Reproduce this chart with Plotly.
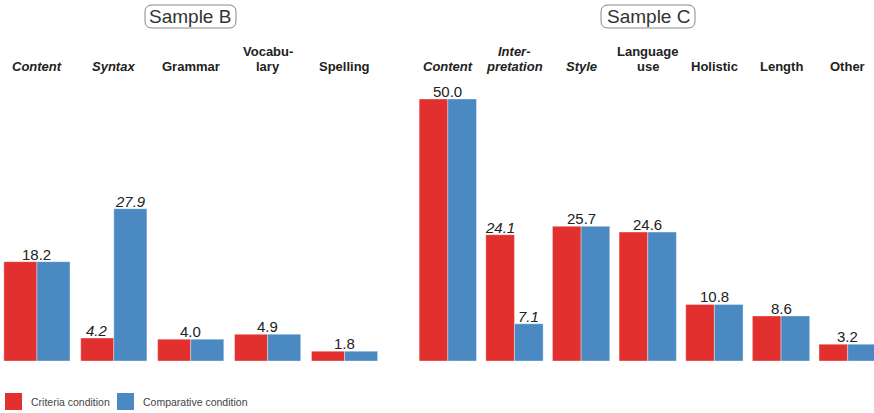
import plotly.graph_objects as go

# Sample B
cats_b = ["Content", "Syntax", "Grammar", "Vocabu-<br>lary", "Spelling"]
italic_b = [True, True, False, False, False]
crit_b = [18.2, 4.2, 4.0, 4.9, 1.8]
comp_b = [18.2, 27.9, 4.0, 4.9, 1.8]

# Sample C
cats_c = ["Content", "Inter-<br>pretation", "Style", "Language<br>use", "Holistic", "Length", "Other"]
italic_c = [True, True, True, False, False, False, False]
crit_c = [50.0, 24.1, 25.7, 24.6, 10.8, 8.6, 3.2]
comp_c = [50.0, 7.1, 25.7, 24.6, 10.8, 8.6, 3.2]

series_names = ["Criteria condition", "Comparative condition"]
panel_titles = ["Sample B", "Sample C"]

RED = "#E2302F"
BLUE = "#4A89C1"
W, H = 874, 413
FONT = "Liberation Sans, Arial, sans-serif"

fig = go.Figure()
for xa, ya, cats, crit, comp in [("x", "y", cats_b, crit_b, comp_b), ("x2", "y2", cats_c, crit_c, comp_c)]:
    fig.add_trace(go.Bar(x=cats, y=crit, name=series_names[0], marker_color=RED,
                         showlegend=False, xaxis=xa, yaxis=ya))
    fig.add_trace(go.Bar(x=cats, y=comp, name=series_names[1], marker_color=BLUE,
                         showlegend=False, xaxis=xa, yaxis=ya))
fig.update_traces(marker_line_width=0.6, marker_line_color="rgba(255,255,255,0.6)")


def value_labels(cats, crit, comp, xref, yref, half):
    for c, a, b in zip(cats, crit, comp):
        if a == b:
            items = [(a, 0, False)]
        else:
            items = [(a, -half, True), (b, half, True)]
        for v, dx, it in items:
            txt = f"<i>{v:.1f}</i>" if it else f"{v:.1f}"
            fig.add_annotation(x=c, y=v, xref=xref, yref=yref, text=txt, showarrow=False,
                               xanchor="center", yanchor="bottom", xshift=dx, yshift=-3,
                               font=dict(size=15, color="#222", family=FONT))


value_labels(cats_b, crit_b, comp_b, "x", "y", 16.7)
value_labels(cats_c, crit_c, comp_c, "x2", "y2", 14.2)

y_top_px, y_base_px = 85, 361
ydom = [1 - y_base_px / H, 1 - y_top_px / H]
plot_h = y_base_px - y_top_px


def category_labels(cats, italics, xref):
    # each line placed separately so the line spacing stays tight
    for c, it in zip(cats, italics):
        lines = c.split("<br>")
        for k, line in enumerate(reversed(lines)):
            txt = f"<b><i>{line}</i></b>" if it else f"<b>{line}</b>"
            fig.add_annotation(x=c, y=ydom[1], xref=xref, yref="paper", text=txt,
                               showarrow=False, xanchor="center", yanchor="bottom",
                               yshift=10 + 15 * k, borderpad=0,
                               font=dict(size=13, color="#222", family=FONT))


category_labels(cats_b, italic_b, "x")
category_labels(cats_c, italic_c, "x2")


def rounded_box(x0, y0, x1, y1, r=7):
    # pixel coords -> paper coords
    px = lambda v: v / W
    py = lambda v: 1 - v / H
    p = (f"M {px(x0 + r)},{py(y0)} L {px(x1 - r)},{py(y0)} Q {px(x1)},{py(y0)} {px(x1)},{py(y0 + r)} "
         f"L {px(x1)},{py(y1 - r)} Q {px(x1)},{py(y1)} {px(x1 - r)},{py(y1)} "
         f"L {px(x0 + r)},{py(y1)} Q {px(x0)},{py(y1)} {px(x0)},{py(y1 - r)} "
         f"L {px(x0)},{py(y0 + r)} Q {px(x0)},{py(y0)} {px(x0 + r)},{py(y0)} Z")
    fig.add_shape(type="path", path=p, xref="paper", yref="paper",
                  line=dict(color="#888", width=1))


for label, cx, x0, x1 in [(panel_titles[0], 190, 145, 236), (panel_titles[1], 648, 601, 695)]:
    rounded_box(x0, 5, x1, 28)
    fig.add_annotation(x=cx / W, y=1 - 16.5 / H, xref="paper", yref="paper", text=label,
                       showarrow=False, xanchor="center", yanchor="middle",
                       font=dict(size=19, color="#333", family=FONT))

# hand-made legend with larger swatches
for name, color, lx in [(series_names[0], RED, 5), (series_names[1], BLUE, 117)]:
    fig.add_shape(type="rect", xref="paper", yref="paper",
                  x0=lx / W, x1=(lx + 17) / W, y0=1 - 410 / H, y1=1 - 393 / H,
                  fillcolor=color, line_width=0)
    fig.add_annotation(x=(lx + 24) / W, y=1 - 401.5 / H, xref="paper", yref="paper", text=name,
                       showarrow=False, xanchor="left", yanchor="middle",
                       font=dict(size=10.5, color="#444", family=FONT))

xcommon = dict(showline=False, showgrid=False, ticks="", showticklabels=False, fixedrange=True)
ycommon = dict(visible=False, showgrid=False, zeroline=False, fixedrange=True)

fig.update_layout(
    width=W, height=H,
    margin=dict(l=0, r=0, t=0, b=0),
    paper_bgcolor="white", plot_bgcolor="white",
    barmode="group", bargap=0.14, bargroupgap=0,
    xaxis=dict(domain=[0, 383 / W], range=[-0.48, 4.5], anchor="y", **xcommon),
    yaxis=dict(domain=ydom, range=[0, plot_h / 5.46], anchor="x", **ycommon),
    xaxis2=dict(domain=[414.5 / W, 1], range=[-0.5, 6.395], anchor="y2", **xcommon),
    yaxis2=dict(domain=ydom, range=[0, plot_h / 5.24], anchor="x2", **ycommon),
    showlegend=False,
    font=dict(family=FONT),
)

fig.write_html("out.html", config={"displayModeBar": False},
               post_script="document.body.style.margin='0';")
